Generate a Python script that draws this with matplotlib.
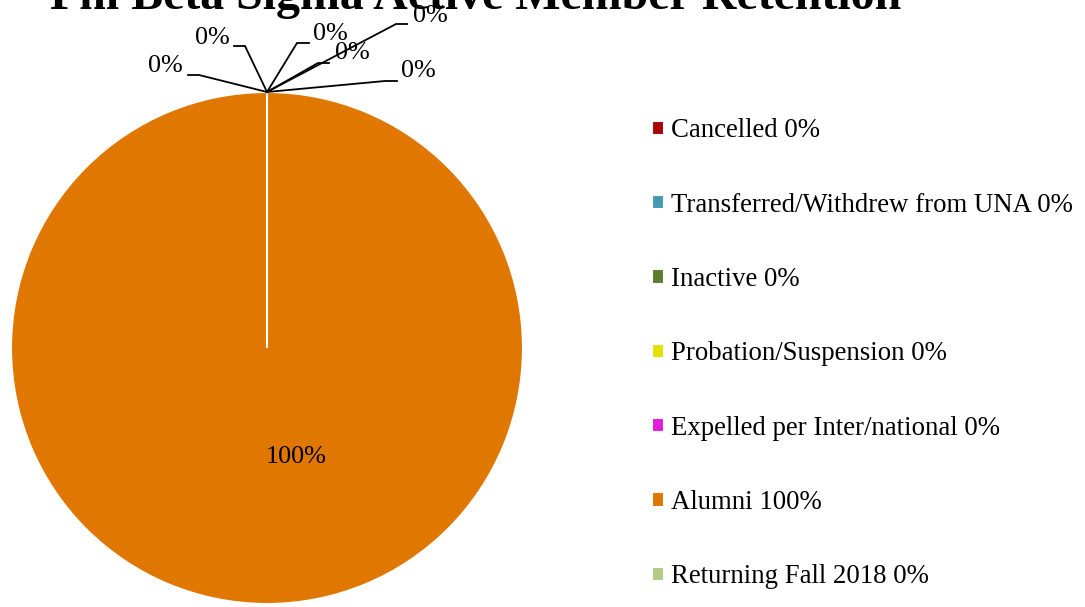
import numpy as np
import matplotlib.pyplot as plt

plt.rcParams['font.family'] = ['Liberation Serif', 'DejaVu Serif']

# data
categories = ["Cancelled", "Transferred/Withdrew from UNA", "Inactive",
              "Probation/Suspension", "Expelled per Inter/national",
              "Alumni", "Returning Fall 2018"]
values = [0, 0, 0, 0, 0, 100, 0]
colors = ["#A80000", "#4599B0", "#5E7D2E", "#E4E000", "#E41CDC",
          "#DF7700", "#B3CB87"]

pcts = [v / sum(values) * 100 for v in values]

W, H = 1085, 607
fig = plt.figure(figsize=(W / 100, H / 100), dpi=100)

# pie box in pixels (center + radius)
cx, cy, r = 267, 348, 256
ax = fig.add_axes([(cx - r) / W, (H - cy - r) / H, 2 * r / W, 2 * r / H])
wedges, _ = ax.pie(values, colors=colors, startangle=90, counterclock=False,
                   radius=1, wedgeprops=dict(edgecolor="white", linewidth=1.5))
ax.set_xlim(-1, 1)
ax.set_ylim(-1, 1)
ax.axis("off")


def px(x, y):
    return (x - cx) / r, (cy - y) / r


# label layout for the zero slices: text center, elbow, tail end (pixels)
label_pos = [(165, 66, 199, 75, 188), (212, 38, 245, 46, 234),
             (330, 34, 297, 43, 309), (352, 53, 318, 63, 329),
             (430, 16, 396, 24, 407), (418, 71, 385, 81, 397)]

k = 0
for w, p in zip(wedges, pcts):
    if p > 0:
        tx, ty = px(296, 457)
        ax.text(tx, ty, f"{p:.0f}%", ha="center", va="center", fontsize=18.8)
        continue
    t = np.deg2rad(w.theta1)
    x0, y0 = np.cos(t), np.sin(t)
    lx, ly, ex, ey, hx = label_pos[k]
    k += 1
    ex, ey = px(ex, ey)
    hx, _ = px(hx, 0)
    ax.plot([x0, ex, hx], [y0, ey, ey], color="black", lw=1.3,
            clip_on=False, solid_joinstyle="miter")
    tx, ty = px(lx, ly)
    ax.text(tx, ty, f"{p:.0f}%", ha="center", va="center", fontsize=18.8)

fig.text(476 / W, 1 - 9 / H, "Phi Beta Sigma Active Member Retention",
         ha="center", va="baseline", fontsize=34.5, fontweight="bold")

leg_labels = [f"{c} {p:.0f}%" for c, p in zip(categories, pcts)]
fig.legend(wedges, leg_labels, loc="upper left",
           bbox_to_anchor=(639 / W, 1 - 105 / H), frameon=False,
           fontsize=19.3, handlelength=0.44, handleheight=0.44,
           handletextpad=0.26, labelspacing=1.84, borderpad=0)

fig.savefig("out.png", dpi=100)
